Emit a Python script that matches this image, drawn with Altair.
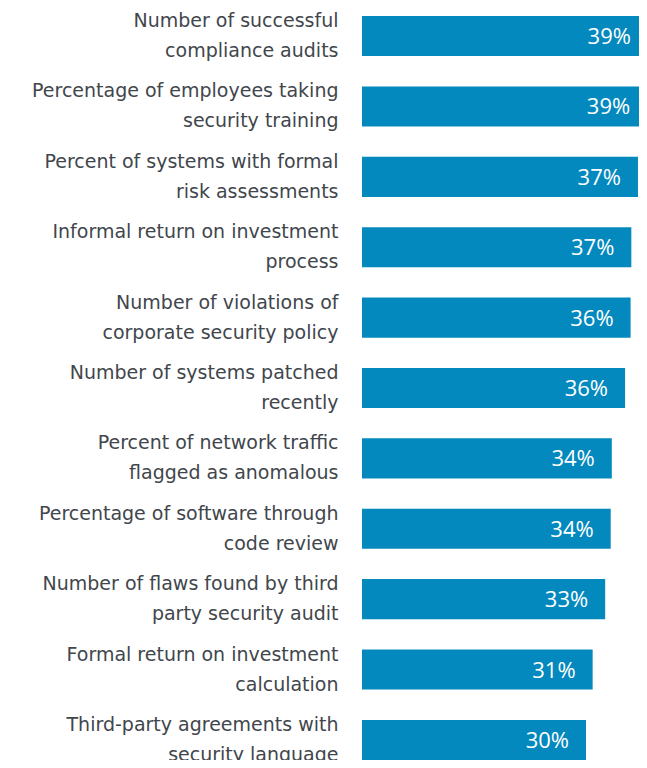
import altair as alt
import pandas as pd

categories = [
    "Number of successful|compliance audits",
    "Percentage of employees taking|security training",
    "Percent of systems with formal|risk assessments",
    "Informal return on investment|process",
    "Number of violations of|corporate security policy",
    "Number of systems patched|recently",
    "Percent of network traffic|flagged as anomalous",
    "Percentage of software through|code review",
    "Number of flaws found by third|party security audit",
    "Formal return on investment|calculation",
    "Third-party agreements with|security language",
]
values = [38.8, 38.7, 37.45, 36.55, 36.45, 35.7, 33.9, 33.75, 33.0, 31.3, 30.4]

df = pd.DataFrame({"cat": categories, "val": values})
df["lbl"] = [f"{round(v):.0f}%" for v in values]

LABEL_FONT = "DejaVu Sans"
VALUE_FONT = "Open Sans"

y_enc = alt.Y(
    "cat:N",
    sort=categories,
    title=None,
    scale=alt.Scale(paddingInner=0.43, paddingOuter=0),
    axis=alt.Axis(
        labelExpr="split(datum.label, '|')",
        labelAlign="right",
        labelBaseline="middle",
        labelOffset=-15,
        labelPadding=24,
        labelFontSize=19,
        labelFont=LABEL_FONT,
        labelColor="#41464c",
        labelLineHeight=30,
        labelLimit=0,
        ticks=False,
        domain=False,
    ),
)
x_enc = alt.X(
    "val:Q",
    title=None,
    scale=alt.Scale(domain=[0, 37.59], nice=False, zero=True),
    axis=None,
)

bars = alt.Chart(df).mark_bar(color="#0389BE").encode(x=x_enc, y=y_enc)
text = alt.Chart(df).mark_text(
    align="right", baseline="middle", dx=-17, dy=1,
    color="white", fontSize=22, font=VALUE_FONT
).encode(x="val:Q", y=alt.Y("cat:N", sort=categories), text="lbl:N")

chart = (
    alt.layer(bars, text)
    .properties(
        width=277,
        height=744,
        autosize=alt.AutoSizeParams(type="none"),
        padding={"left": 354, "top": 8, "right": 0, "bottom": 0},
    )
    .configure_view(stroke=None)
)

chart.save("out.html", embed_options={"renderer": "svg", "actions": False})
